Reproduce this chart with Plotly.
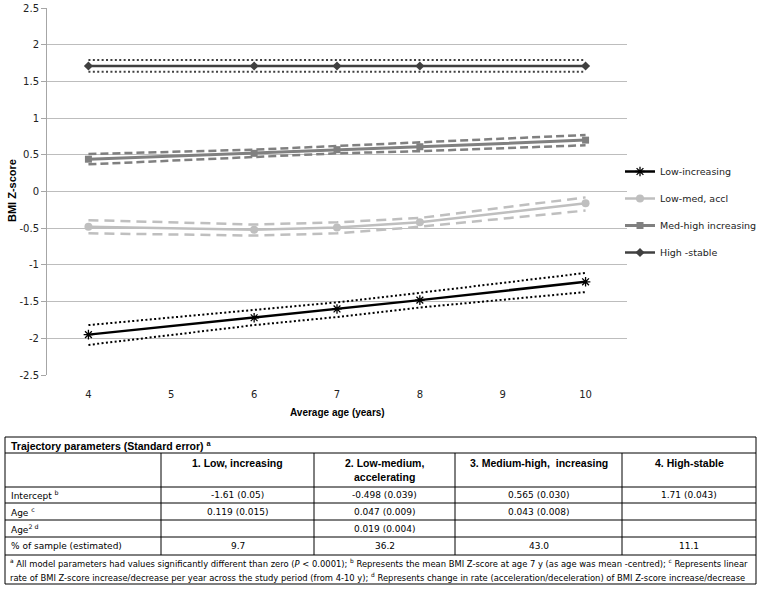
import plotly.graph_objects as go

# ---------------- data ----------------
ages = [4, 6, 7, 8, 10]

series_names = ["Low-increasing", "Low-med, accl", "Med-high increasing", "High -stable"]
low_inc = [-1.95, -1.72, -1.60, -1.48, -1.23]
low_inc_hi = [-1.82, -1.61, -1.51, -1.38, -1.11]
low_inc_lo = [-2.09, -1.82, -1.71, -1.58, -1.37]

low_med = [-0.48, -0.52, -0.49, -0.42, -0.16]
low_med_hi = [-0.39, -0.45, -0.42, -0.36, -0.08]
low_med_lo = [-0.57, -0.60, -0.57, -0.48, -0.26]

med_high = [0.44, 0.52, 0.57, 0.61, 0.70]
med_high_hi = [0.51, 0.57, 0.62, 0.67, 0.77]
med_high_lo = [0.37, 0.47, 0.52, 0.55, 0.63]

high_st = [1.71, 1.71, 1.71, 1.71, 1.71]
high_st_hi = [1.79, 1.79, 1.79, 1.79, 1.79]
high_st_lo = [1.63, 1.63, 1.63, 1.63, 1.63]

y_ticks = [2.5, 2, 1.5, 1, 0.5, 0, -0.5, -1, -1.5, -2, -2.5]
x_ticks = [4, 5, 6, 7, 8, 9, 10]

table_title = "Trajectory parameters (Standard error) <sup>a</sup>"
col_headers = ["1. Low, increasing", "2. Low-medium,<br>accelerating",
               "3. Medium-high,  increasing", "4. High-stable"]
row_labels = ["Intercept <sup>b</sup>", "Age <sup>c</sup>", "Age<sup>2 d</sup>",
              "% of sample (estimated)"]
row_intercept = ["-1.61 (0.05)", "-0.498 (0.039)", "0.565 (0.030)", "1.71 (0.043)"]
row_age = ["0.119 (0.015)", "0.047 (0.009)", "0.043 (0.008)", ""]
row_age2 = ["", "0.019 (0.004)", "", ""]
row_pct = ["9.7", "36.2", "43.0", "11.1"]
footnote = [
    "<sup>a</sup> All model parameters had values significantly different than zero "
    "(<i>P</i> &lt; 0.0001); <sup>b</sup> Represents the mean BMI Z-score at age 7 y "
    "(as age was mean -centred); <sup>c</sup> Represents linear",
    "rate of BMI Z-score increase/decrease per year across the study period (from 4-10 y); "
    "<sup>d</sup> Represents change in rate (acceleration/deceleration) of BMI Z-score increase/decrease",
]

# ---------------- layout geometry ----------------
W_FIG, H_FIG = 767, 590
L, T = 47, 8
PW, PH = 580, 367
R = W_FIG - L - PW
B = H_FIG - T - PH


def px(x):
    return (x - L) / PW


def py(y):
    return (T + PH - y) / PH


fig = go.Figure()

styles = [
    dict(color="#000000", mean=low_inc, hi=low_inc_hi, lo=low_inc_lo,
         dash="2px,2.4px", ciw=2, sym="asterisk-open", size=8, w=2.5),
    dict(color="#BFBFBF", mean=low_med, hi=low_med_hi, lo=low_med_lo,
         dash="10px,6px", ciw=2.5, sym="circle", size=8, w=2.5),
    dict(color="#808080", mean=med_high, hi=med_high_hi, lo=med_high_lo,
         dash="8px,4px", ciw=2.5, sym="square", size=7, w=3),
    dict(color="#404040", mean=high_st, hi=high_st_hi, lo=high_st_lo,
         dash="2px,2.4px", ciw=2, sym="diamond", size=7, w=2.5),
]

# confidence bands first
for s in styles:
    for band in (s["hi"], s["lo"]):
        fig.add_trace(go.Scatter(x=ages, y=band, mode="lines", showlegend=False,
                                 hoverinfo="skip",
                                 line=dict(color=s["color"], width=s["ciw"], dash=s["dash"])))

for i, (name, s) in enumerate(zip(series_names, styles)):
    marker = dict(symbol=s["sym"], size=s["size"], color=s["color"])
    if s["sym"] == "asterisk-open":
        marker["line"] = dict(color=s["color"], width=1.3)
    fig.add_trace(go.Scatter(x=ages, y=s["mean"], mode="lines+markers", name=name,
                             legendgroup=f"g{i}",
                             line=dict(color=s["color"], width=s["w"]),
                             marker=marker))

fig.update_xaxes(range=[3.5, 10.5], tickvals=x_ticks, ticktext=[str(v) for v in x_ticks],
                 showgrid=False, zeroline=False, showline=False,
                 ticks="", ticklabelstandoff=12,
                 tickfont=dict(family="DejaVu Sans", size=10, color="#222"))
fig.update_yaxes(range=[-2.5, 2.5], tickvals=y_ticks, ticktext=[f"{v:g}" for v in y_ticks],
                 showgrid=True, gridcolor="#BDBDBD", gridwidth=1,
                 zeroline=False, showline=True, linecolor="#A6A6A6", linewidth=1,
                 ticks="outside", ticklen=5, tickcolor="#A6A6A6",
                 tickfont=dict(family="DejaVu Sans", size=10, color="#222"))

shapes = []
annotations = []

# axis titles
annotations.append(dict(x=px(337), y=py(412), xref="paper", yref="paper",
                        xanchor="center", yanchor="middle",
                        text="<b>Average age (years)</b>", showarrow=False,
                        font=dict(family="Liberation Sans", size=10, color="#000")))
annotations.append(dict(x=px(12), y=py(191), xref="paper", yref="paper",
                        xanchor="center", yanchor="middle",
                        text="<b>BMI Z-score</b>", showarrow=False, textangle=-90,
                        font=dict(family="Liberation Sans", size=11, color="#000")))

# ---------------- table ----------------
tx0, tx1 = 5, 756
col_x = [161, 314, 455, 622]
row_y = [437, 453, 487, 503, 520, 537, 555, 584]
line_style = dict(color="#000", width=1)

for yy in row_y:
    shapes.append(dict(type="line", xref="paper", yref="paper",
                       x0=px(tx0), x1=px(tx1), y0=py(yy), y1=py(yy), line=line_style))
for xx in (tx0, tx1):
    shapes.append(dict(type="line", xref="paper", yref="paper",
                       x0=px(xx), x1=px(xx), y0=py(row_y[0]), y1=py(row_y[-1]), line=line_style))
for xx in col_x:
    shapes.append(dict(type="line", xref="paper", yref="paper",
                       x0=px(xx), x1=px(xx), y0=py(row_y[1]), y1=py(row_y[6]), line=line_style))

bold_font = dict(family="Liberation Sans", size=10.5, color="#000")
body_font = dict(family="DejaVu Sans", size=9, color="#000")

annotations.append(dict(x=px(9), y=py(445), xref="paper", yref="paper",
                        xanchor="left", yanchor="middle",
                        text=f"<b>{table_title}</b>", showarrow=False, font=bold_font))

col_edges = col_x + [tx1]
for j, h in enumerate(col_headers):
    cx = (col_edges[j] + col_edges[j + 1]) / 2
    annotations.append(dict(x=px(cx), y=py(455), xref="paper", yref="paper",
                            xanchor="center", yanchor="top", align="center",
                            text=f"<b>{h}</b>", showarrow=False, font=bold_font))

rows = [row_intercept, row_age, row_age2, row_pct]
for r, (lab, vals) in enumerate(zip(row_labels, rows)):
    cy = (row_y[2 + r] + row_y[3 + r]) / 2
    annotations.append(dict(x=px(9), y=py(cy), xref="paper", yref="paper",
                            xanchor="left", yanchor="middle",
                            text=lab, showarrow=False, font=body_font))
    for j, v in enumerate(vals):
        if not v:
            continue
        cx = (col_edges[j] + col_edges[j + 1]) / 2
        annotations.append(dict(x=px(cx), y=py(cy), xref="paper", yref="paper",
                                xanchor="center", yanchor="middle",
                                text=v, showarrow=False, font=body_font))

for k, line in enumerate(footnote):
    annotations.append(dict(x=px(8), y=py(563 + 14 * k), xref="paper", yref="paper",
                            xanchor="left", yanchor="middle", text=line, showarrow=False,
                            font=dict(family="DejaVu Sans", size=8.4, color="#000")))

fig.update_layout(
    width=W_FIG, height=H_FIG,
    margin=dict(l=L, r=R, t=T, b=B, autoexpand=False),
    paper_bgcolor="#FFFFFF", plot_bgcolor="#FFFFFF",
    showlegend=True,
    legend=dict(x=px(620), y=py(157), xanchor="left", yanchor="top",
                traceorder="grouped", tracegroupgap=8, itemwidth=30,
                font=dict(family="DejaVu Sans", size=9.5, color="#222"),
                bgcolor="rgba(0,0,0,0)"),
    shapes=shapes, annotations=annotations,
)

fig.write_html("out.html",
               config={"displayModeBar": False},
               post_script="document.body.style.margin='0';document.body.style.padding='0';")
